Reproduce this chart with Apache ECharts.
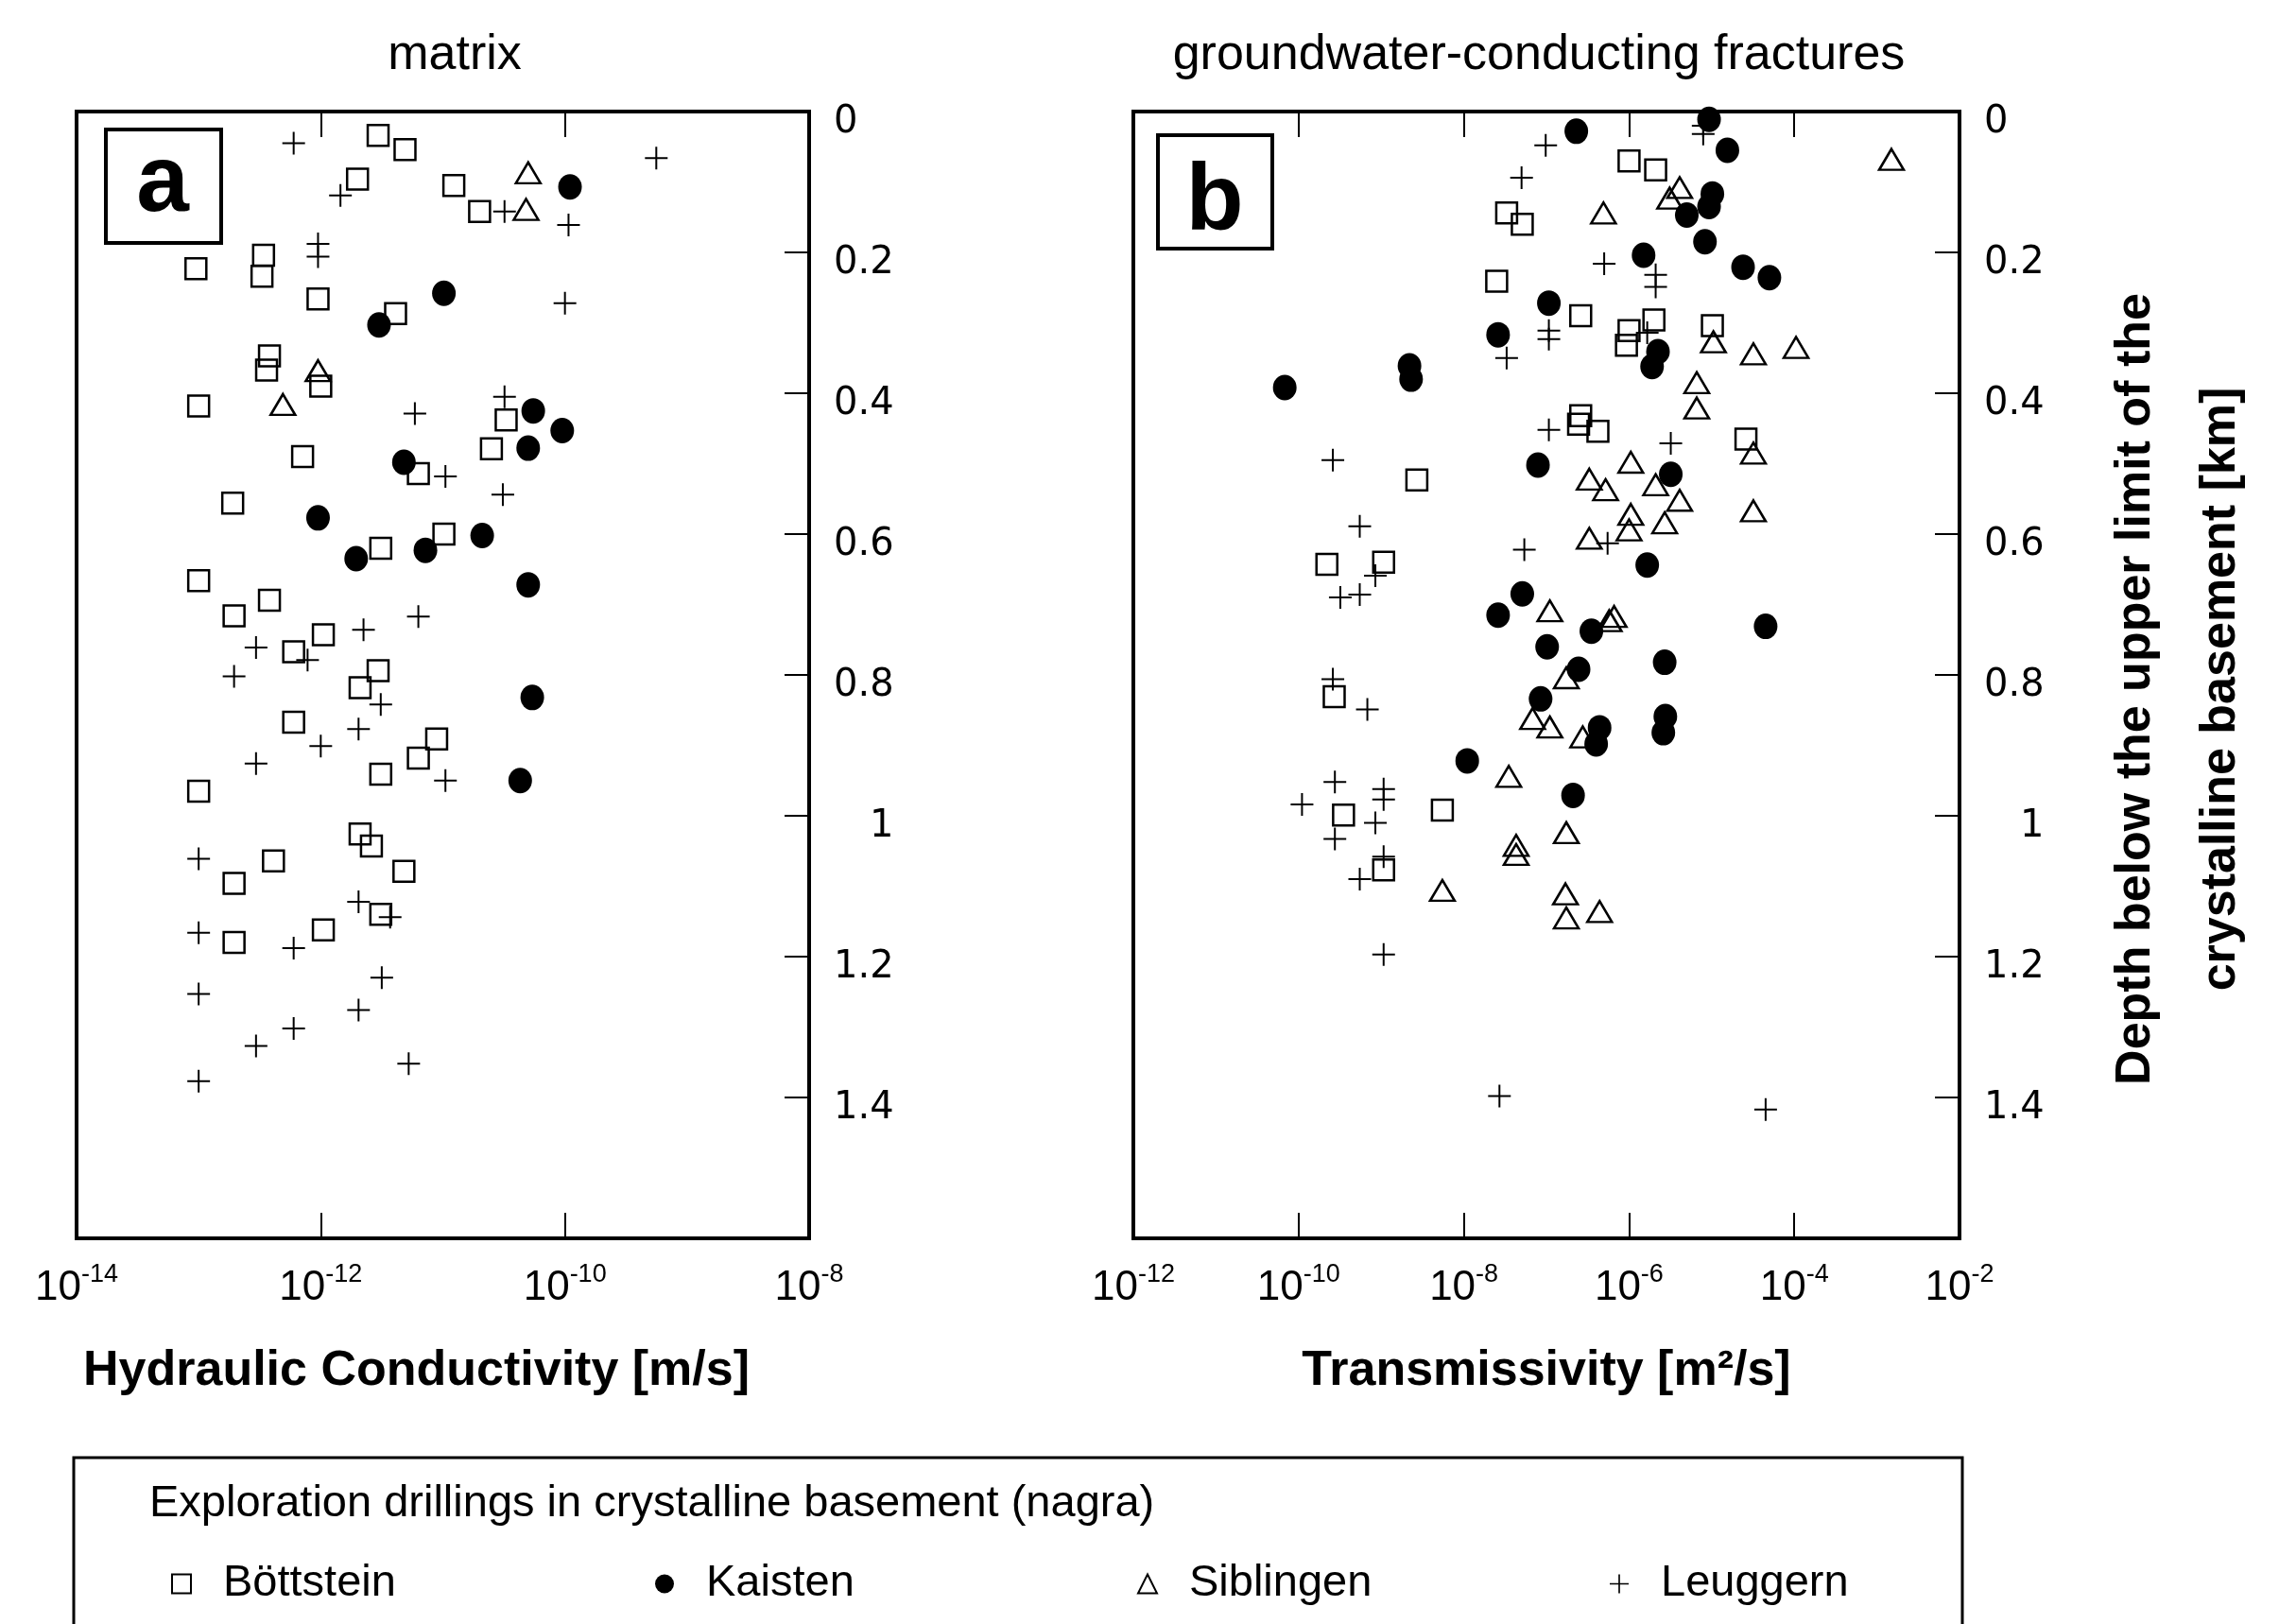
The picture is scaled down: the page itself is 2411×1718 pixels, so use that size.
<!DOCTYPE html>
<html><head><meta charset="utf-8">
<script src="https://cdn.jsdelivr.net/npm/echarts@6/dist/echarts.min.js"></script>
<style>html,body{margin:0;padding:0;background:#fff}#c{width:2411px;height:1718px}</style>
</head><body><div id="c"></div>
<script>
// ---------- DATA ----------
// Panel a (matrix): [hydraulic conductivity m/s, depth km]
const matrixBottstein = [[2.95e-12,0.034],[4.9e-12,0.054],[2.0e-12,0.096],[1.23e-11,0.105],[2.0e-11,0.142],
 [3.4e-13,0.204],[9.5e-14,0.223],[3.3e-13,0.234],[9.5e-13,0.266],[4.1e-12,0.287],[3.8e-13,0.347],[3.6e-13,0.367],
 [1.0e-12,0.390],[1.0e-13,0.418],[3.3e-11,0.438],[2.5e-11,0.479],[7.1e-13,0.490],[6.3e-12,0.514],[1.9e-13,0.556],
 [1.02e-11,0.600],[3.1e-12,0.620],[1.0e-13,0.666],[3.8e-13,0.694],[1.95e-13,0.716],[1.05e-12,0.743],[6.0e-13,0.767],
 [2.95e-12,0.794],[2.1e-12,0.818],[6.0e-13,0.867],[8.9e-12,0.891],[6.3e-12,0.918],[3.1e-12,0.941],[1.0e-13,0.965],
 [2.1e-12,1.026],[2.6e-12,1.043],[4.1e-13,1.064],[4.8e-12,1.079],[1.95e-13,1.096],[3.1e-12,1.140],[1.05e-12,1.162],
 [1.95e-13,1.180]];
const matrixKaisten = [[1.1e-10,0.107],[1.02e-11,0.258],[3.0e-12,0.303],[5.5e-11,0.425],[9.5e-11,0.453],[5.0e-11,0.478],
 [4.8e-12,0.498],[9.5e-13,0.577],[2.1e-11,0.602],[7.2e-12,0.623],[1.95e-12,0.635],[5.0e-11,0.672],[5.4e-11,0.832],
 [4.3e-11,0.950]];
const matrixSiblingen = [[5.0e-11,0.087],[4.8e-11,0.139],[9.5e-13,0.368],[4.9e-13,0.416]];
const matrixLeuggern = [[6.0e-13,0.045],[5.6e-10,0.066],[1.45e-12,0.119],[3.2e-11,0.142],[1.07e-10,0.161],[9.5e-13,0.188],
 [9.5e-13,0.206],[1.0e-10,0.272],[3.2e-11,0.405],[5.9e-12,0.429],[1.05e-11,0.518],[3.1e-11,0.544],[6.3e-12,0.717],
 [2.24e-12,0.736],[2.95e-13,0.761],[7.8e-13,0.779],[1.95e-13,0.802],[3.1e-12,0.842],[2.04e-12,0.877],[1.0e-12,0.901],
 [2.95e-13,0.926],[1.05e-11,0.950],[1.0e-13,1.061],[2.04e-12,1.122],[3.7e-12,1.144],[1.0e-13,1.166],[6.0e-13,1.188],
 [3.16e-12,1.230],[1.0e-13,1.253],[2.04e-12,1.276],[6.0e-13,1.302],[2.95e-13,1.327],[5.25e-12,1.352],[1.0e-13,1.377]];

// Panel b (fractures): [transmissivity m2/s, depth km]
const fracBottstein = [[1.0e-6,0.070],[2.1e-6,0.083],[3.3e-8,0.144],[5.1e-8,0.160],[2.5e-8,0.241],[2.6e-7,0.290],
 [1.0e-6,0.311],[2.0e-6,0.296],[9.3e-7,0.332],[1.02e-5,0.304],[2.6e-7,0.432],[2.45e-7,0.444],[4.2e-7,0.454],
 [2.6e-5,0.465],[2.7e-9,0.523],[2.2e-10,0.643],[1.07e-9,0.640],[2.7e-10,0.831],[3.5e-10,0.999],[5.5e-9,0.992],
 [1.07e-9,1.077]];
const fracKaisten = [[9.3e-6,0.011],[2.3e-7,0.028],[1.55e-5,0.055],[1.02e-5,0.117],[9.3e-6,0.135],[5.0e-6,0.147],
 [8.3e-6,0.185],[1.5e-6,0.204],[2.4e-5,0.221],[5.0e-5,0.236],[1.07e-7,0.272],[2.6e-8,0.317],[2.24e-6,0.341],
 [1.9e-6,0.362],[2.2e-9,0.361],[2.3e-9,0.380],[6.8e-11,0.392],[7.9e-8,0.502],[3.2e-6,0.515],[1.66e-6,0.644],
 [5.1e-8,0.685],[2.6e-8,0.715],[4.5e-5,0.731],[3.5e-7,0.738],[1.02e-7,0.760],[2.7e-6,0.782],[2.45e-7,0.792],
 [8.5e-8,0.834],[2.75e-6,0.859],[2.6e-6,0.882],[4.4e-7,0.875],[4.0e-7,0.898],[1.1e-8,0.922],[2.1e-7,0.971]];
const fracSiblingen = [[1.5e-3,0.068],[4.1e-6,0.108],[3.1e-6,0.123],[4.9e-7,0.144],[1.05e-5,0.327],[3.2e-5,0.344],
 [1.05e-4,0.335],[6.6e-6,0.385],[6.6e-6,0.421],[3.2e-5,0.485],[1.05e-6,0.498],[3.3e-7,0.522],[5.2e-7,0.537],
 [2.1e-6,0.530],[4.1e-6,0.552],[1.05e-6,0.572],[3.2e-5,0.567],[2.7e-6,0.584],[1.0e-6,0.594],[3.3e-7,0.606],
 [1.1e-7,0.709],[6.6e-7,0.717],[5.75e-7,0.723],[1.74e-7,0.804],[6.8e-8,0.862],[1.1e-7,0.874],[2.75e-7,0.888],
 [3.5e-8,0.944],[1.74e-7,1.024],[4.3e-8,1.042],[4.3e-8,1.055],[5.5e-9,1.106],[1.7e-7,1.111],[4.4e-7,1.136],
 [1.74e-7,1.145]];
const fracLeuggern = [[7.9e-6,0.020],[7.9e-6,0.032],[9.8e-8,0.048],[5.0e-8,0.094],[5.0e-7,0.216],[2.1e-6,0.232],
 [2.1e-6,0.249],[1.07e-7,0.311],[1.07e-7,0.323],[1.66e-6,0.314],[3.3e-8,0.350],[1.07e-7,0.452],[3.2e-6,0.471],
 [2.6e-10,0.495],[5.5e-10,0.589],[5.4e-8,0.622],[5.5e-7,0.613],[8.5e-10,0.659],[5.5e-10,0.686],[3.2e-10,0.690],
 [2.6e-10,0.806],[6.8e-10,0.849],[2.75e-10,0.952],[1.07e-9,0.962],[1.07e-9,0.977],[1.1e-10,0.984],[8.5e-10,1.010],
 [2.75e-10,1.033],[1.07e-9,1.058],[5.5e-10,1.090],[1.07e-9,1.197],[2.7e-8,1.398],[4.5e-5,1.417]];

const wellNames = ['Böttstein', 'Kaisten', 'Siblingen', 'Leuggern'];
const matrixRange = [1e-14, 1e-8];
const fracRange = [1e-12, 1e-2];
const matrixTicks = [1e-14, 1e-12, 1e-10, 1e-8];
const fracTicks = [1e-12, 1e-10, 1e-8, 1e-6, 1e-4, 1e-2];
const depthRange = [0, 1.6];
const depthStep = 0.2;
const depthLabelMax = 1.4;
const titles = ['matrix', 'groundwater-conducting fractures'];
const xNames = ['Hydraulic Conductivity [m/s]', 'Transmissivity [m²/s]'];
const yName = 'Depth below the upper limit of the\ncrystalline basement [km]';
const legendTitle = 'Exploration drillings in crystalline basement (nagra)';
const panelLetters = ['a', 'b'];

// ---------- STYLE ----------
const FF = '"Liberation Sans", Arial, Helvetica, sans-serif';
const FD = '"DejaVu Sans", sans-serif';
const PLUS = 'path://M11,0H13V24H11Z M0,11H24V13H0Z';
const symbolStyles = {
  'Böttstein': {symbol: 'rect', symbolSize: 22, itemStyle: {color: 'rgba(255,255,255,0)', borderColor: '#000', borderWidth: 2.5, opacity: 1}},
  'Kaisten': {symbol: 'circle', symbolSize: [25, 27], itemStyle: {color: '#000', opacity: 1}},
  'Siblingen': {symbol: 'triangle', symbolSize: [26, 22], itemStyle: {color: 'rgba(255,255,255,0)', borderColor: '#000', borderWidth: 2.5, opacity: 1}},
  'Leuggern': {symbol: PLUS, symbolSize: 24, itemStyle: {color: '#000', opacity: 1}}
};

const grids = [
  {left: 81, top: 118, width: 775, height: 1192},
  {left: 1199, top: 118, width: 874, height: 1192}
];

function xLabel(v) {
  const e = Math.round(Math.log10(v));
  return '{b|10}{s|' + e + '}';
}
const xRich = {
  b: {fontSize: 44, fontFamily: FF, color: '#000', verticalAlign: 'bottom', lineHeight: 50},
  s: {fontSize: 27, fontFamily: FF, color: '#000', verticalAlign: 'top', lineHeight: 27}
};

function makeX(gi, range, ticks, pos) {
  return {
    type: 'log', logBase: 10, gridIndex: gi, min: range[0], max: range[1],
    position: pos,
    axisLine: {show: false, onZero: false},
    axisTick: {show: true, inside: true, length: 27, customValues: ticks, lineStyle: {color: '#000', width: 2}},
    splitLine: {show: false},
    minorTick: {show: false},
    axisLabel: pos === 'bottom'
      ? {show: true, customValues: ticks, formatter: xLabel, rich: xRich, margin: 25, showMinLabel: true, showMaxLabel: true, hideOverlap: false}
      : {show: false}
  };
}
function makeY(gi) {
  return {
    type: 'value', gridIndex: gi, inverse: true, min: depthRange[0], max: depthRange[1], interval: depthStep,
    position: 'right',
    axisLine: {show: false, onZero: false},
    axisTick: {show: true, inside: true, length: 26, lineStyle: {color: '#000', width: 2}},
    splitLine: {show: false},
    axisLabel: {
      show: true, margin: 26, align: 'left', padding: [24, 0, 0, 0],
      fontFamily: FD, fontSize: 40, color: '#000',
      formatter: function (v) {
        if (v > depthLabelMax + 1e-6) return '';
        if (Math.abs(v) < 1e-9) return '0';
        if (Math.abs(v - 1) < 1e-9) return '{one|1}';
        return v.toFixed(1);
      },
      rich: {one: {fontFamily: FD, fontSize: 40, color: '#000', padding: [0, 0, 0, 38]}}
    }
  };
}

const panels = [
  [matrixBottstein, matrixKaisten, matrixSiblingen, matrixLeuggern],
  [fracBottstein, fracKaisten, fracSiblingen, fracLeuggern]
];
const series = [];
panels.forEach(function (sets, p) {
  sets.forEach(function (d, i) {
    const name = wellNames[i];
    const st = symbolStyles[name];
    series.push({
      type: 'scatter', name: name, data: d,
      xAxisIndex: p * 2, yAxisIndex: p,
      symbol: st.symbol, symbolSize: st.symbolSize, itemStyle: st.itemStyle,
      symbolKeepAspect: false,
      emphasis: {disabled: true}, silent: true, z: 5
    });
  });
});

const legendCenters = [191, 703, 1213, 1713];
const legends = wellNames.map(function (n, i) {
  return {
    data: [n], left: legendCenters[i] - 10, top: 1652, orient: 'horizontal', padding: 0,
    itemWidth: 20, itemHeight: 20, selectedMode: false,
    textStyle: {fontSize: 47, fontFamily: FF, color: '#000', padding: [0, 0, 0, 29]}
  };
});

function txt(x, y, text, font, extra) {
  return {type: 'text', x: x, y: y, z: 10, silent: true,
    style: Object.assign({text: text, font: font, fill: '#000', textAlign: 'center', textVerticalAlign: 'middle', align: 'center', verticalAlign: 'middle'}, extra || {})};
}

const graphic = [
  txt(481, 59, titles[0], '52px ' + FF),
  txt(1628, 59, titles[1], '52px ' + FF),
  txt(88, 1451, xNames[0], 'bold 52px ' + FF, {textAlign: 'left', align: 'left'}),
  txt(1636, 1451, xNames[1], 'bold 52px ' + FF),
  {type: 'rect', shape: {x: 112, y: 137, width: 122, height: 120}, z: 10, silent: true, style: {fill: '#fff', stroke: '#000', lineWidth: 4}},
  txt(172, 195, panelLetters[0], 'bold 100px ' + FF),
  {type: 'rect', shape: {x: 1225, y: 143, width: 121, height: 120}, z: 10, silent: true, style: {fill: '#fff', stroke: '#000', lineWidth: 4}},
  txt(1285, 215, panelLetters[1], 'bold 100px ' + FF),
  {type: 'text', x: 2305, y: 729, rotation: Math.PI / 2, z: 10, silent: true,
   style: {text: yName, font: 'bold 52px ' + FF, fill: '#000', textAlign: 'center', textVerticalAlign: 'middle', align: 'center', verticalAlign: 'middle', lineHeight: 90}},
  {type: 'rect', shape: {x: 78, y: 1542, width: 1998, height: 300}, z: 1, silent: true, style: {fill: 'none', stroke: '#000', lineWidth: 3}},
  txt(158, 1591, legendTitle, '47px ' + FF, {textAlign: 'left', align: 'left'})
];

const chart = echarts.init(document.getElementById('c'), null, {renderer: 'canvas'});
chart.setOption({
  animation: false,
  backgroundColor: '#fff',
  textStyle: {fontFamily: FF},
  grid: grids.map(function (g) { return Object.assign({show: true, borderColor: '#000', borderWidth: 4, backgroundColor: 'rgba(0,0,0,0)', containLabel: false}, g); }),
  xAxis: [
    makeX(0, matrixRange, matrixTicks, 'bottom'), makeX(0, matrixRange, matrixTicks, 'top'),
    makeX(1, fracRange, fracTicks, 'bottom'), makeX(1, fracRange, fracTicks, 'top')
  ],
  yAxis: [makeY(0), makeY(1)],
  legend: legends,
  series: series,
  graphic: graphic
});
</script></body></html>
